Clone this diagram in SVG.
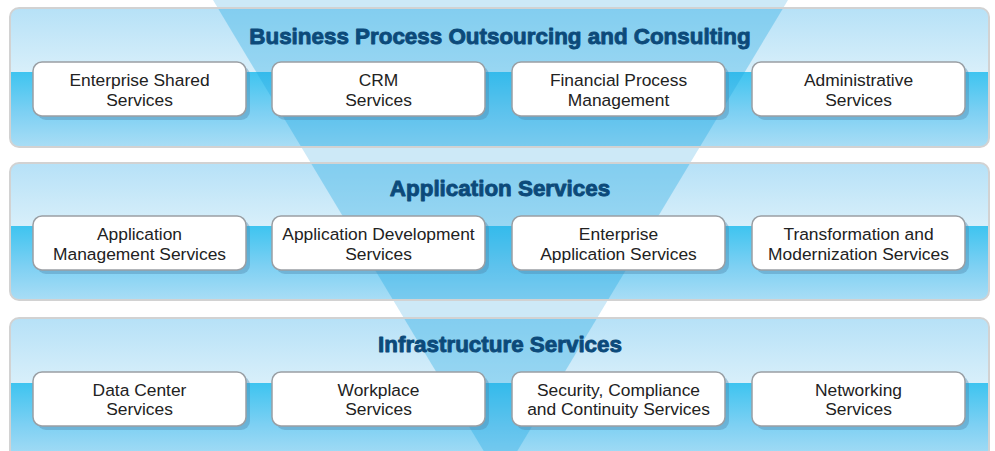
<svg xmlns="http://www.w3.org/2000/svg" width="995" height="451" viewBox="0 0 995 451">
<style>
.band{stroke:#d2d2d2;stroke-width:2;fill:url(#bandGrad)}
.title{font-family:"Liberation Sans",Arial,sans-serif;font-weight:bold;font-size:22.4px;fill:#0c4a7a;stroke:#0c4a7a;stroke-width:0.9;stroke-linejoin:round;text-anchor:middle}
.box{fill:#ffffff;stroke:#9a9fa4;stroke-width:1.5}
.shadow{fill:#4f86ad;opacity:0.4}
.lbl{font-family:"Liberation Sans",Arial,sans-serif;font-size:17.4px;fill:#222222;text-anchor:middle}
</style>
<defs>
<linearGradient id="bandGrad" x1="0" y1="0" x2="0" y2="1">
<stop offset="0" stop-color="#b6e1f7"/>
<stop offset="0.46" stop-color="#d8effa"/>
<stop offset="0.46" stop-color="#3ec4f0"/>
<stop offset="0.75" stop-color="#7dd0f3"/>
<stop offset="1" stop-color="#a9ddf5"/>
</linearGradient>
<clipPath id="bandClip">
<rect x="10" y="9" width="979" height="137" rx="9"/>
<rect x="10" y="164" width="979" height="135" rx="9"/>
<rect x="10" y="319" width="979" height="140" rx="9"/>
</clipPath>
</defs>
<rect width="995" height="451" fill="#ffffff"/>
<polygon points="213,0 788,0 500.5,479" fill="#cde9f7"/>
<g id="band-bpo">
<rect class="band" x="10" y="8" width="979" height="139" rx="9"/>
</g>
<g id="band-app">
<rect class="band" x="10" y="163" width="979" height="137" rx="9"/>
</g>
<g id="band-infra">
<rect class="band" x="10" y="318" width="979" height="142" rx="9"/>
</g>
<polygon points="213,0 788,0 500.5,479" fill="#23a8e2" opacity="0.35" clip-path="url(#bandClip)"/>
<text class="title" x="500" y="44">Business Process Outsourcing and Consulting</text>
<text class="title" x="500" y="196">Application Services</text>
<text class="title" x="500" y="352">Infrastructure Services</text>
<g id="connectors"></g>
<g id="n-ess"><rect class="shadow" x="37" y="66" width="213" height="54" rx="9"/><rect class="box" x="33" y="62" width="213" height="54" rx="9"/><text class="lbl" x="139.5" y="86">Enterprise Shared</text><text class="lbl" x="139.5" y="105.5">Services</text></g>
<g id="n-crm"><rect class="shadow" x="276" y="66" width="213" height="54" rx="9"/><rect class="box" x="272" y="62" width="213" height="54" rx="9"/><text class="lbl" x="378.5" y="86">CRM</text><text class="lbl" x="378.5" y="105.5">Services</text></g>
<g id="n-fpm"><rect class="shadow" x="516" y="66" width="213" height="54" rx="9"/><rect class="box" x="512" y="62" width="213" height="54" rx="9"/><text class="lbl" x="618.5" y="86">Financial Process</text><text class="lbl" x="618.5" y="105.5">Management</text></g>
<g id="n-adm"><rect class="shadow" x="756" y="66" width="213" height="54" rx="9"/><rect class="box" x="752" y="62" width="213" height="54" rx="9"/><text class="lbl" x="858.5" y="86">Administrative</text><text class="lbl" x="858.5" y="105.5">Services</text></g>
<g id="n-ams"><rect class="shadow" x="37" y="220" width="213" height="54" rx="9"/><rect class="box" x="33" y="216" width="213" height="54" rx="9"/><text class="lbl" x="139.5" y="240">Application</text><text class="lbl" x="139.5" y="259.5">Management Services</text></g>
<g id="n-ads"><rect class="shadow" x="276" y="220" width="213" height="54" rx="9"/><rect class="box" x="272" y="216" width="213" height="54" rx="9"/><text class="lbl" x="378.5" y="240">Application Development</text><text class="lbl" x="378.5" y="259.5">Services</text></g>
<g id="n-eas"><rect class="shadow" x="516" y="220" width="213" height="54" rx="9"/><rect class="box" x="512" y="216" width="213" height="54" rx="9"/><text class="lbl" x="618.5" y="240">Enterprise</text><text class="lbl" x="618.5" y="259.5">Application Services</text></g>
<g id="n-tms"><rect class="shadow" x="756" y="220" width="213" height="54" rx="9"/><rect class="box" x="752" y="216" width="213" height="54" rx="9"/><text class="lbl" x="858.5" y="240">Transformation and</text><text class="lbl" x="858.5" y="259.5">Modernization Services</text></g>
<g id="n-dcs"><rect class="shadow" x="37" y="376" width="213" height="54" rx="9"/><rect class="box" x="33" y="372" width="213" height="54" rx="9"/><text class="lbl" x="139.5" y="395.5">Data Center</text><text class="lbl" x="139.5" y="415">Services</text></g>
<g id="n-wps"><rect class="shadow" x="276" y="376" width="213" height="54" rx="9"/><rect class="box" x="272" y="372" width="213" height="54" rx="9"/><text class="lbl" x="378.5" y="395.5">Workplace</text><text class="lbl" x="378.5" y="415">Services</text></g>
<g id="n-scc"><rect class="shadow" x="516" y="376" width="213" height="54" rx="9"/><rect class="box" x="512" y="372" width="213" height="54" rx="9"/><text class="lbl" x="618.5" y="395.5">Security, Compliance</text><text class="lbl" x="618.5" y="415">and Continuity Services</text></g>
<g id="n-net"><rect class="shadow" x="756" y="376" width="213" height="54" rx="9"/><rect class="box" x="752" y="372" width="213" height="54" rx="9"/><text class="lbl" x="858.5" y="395.5">Networking</text><text class="lbl" x="858.5" y="415">Services</text></g>
</svg>
